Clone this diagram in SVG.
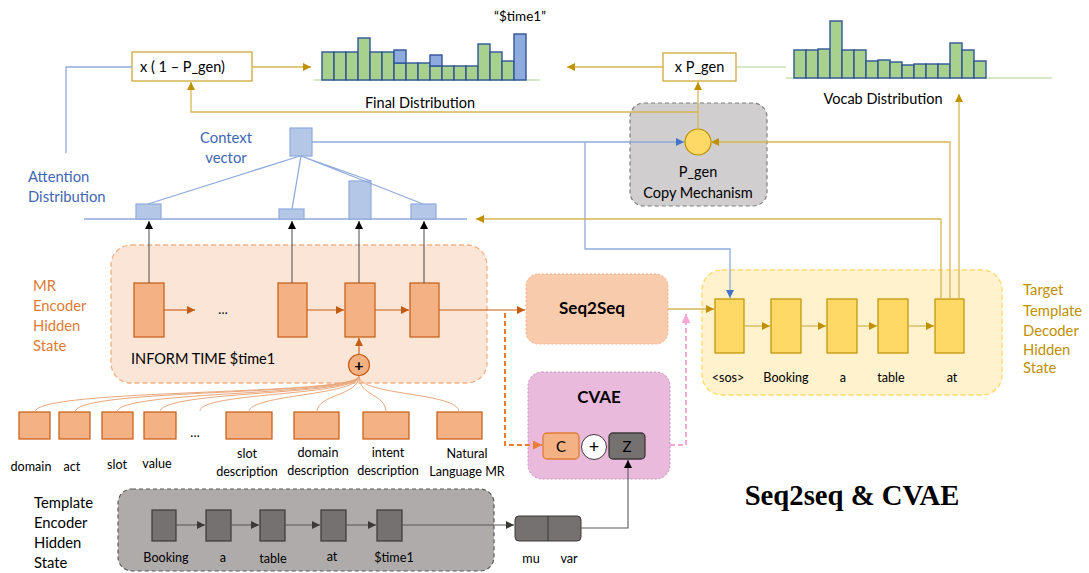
<svg xmlns="http://www.w3.org/2000/svg" width="1089" height="573" viewBox="0 0 1089 573">
<style>
text{font-family:Lato,"Liberation Sans",sans-serif;fill:#000}
.lbl{font-size:14.5px}
.sm{font-size:12.6px}
.blue{fill:#3F66B3;font-size:14.8px}
.org{fill:#DF7A35;font-size:14.8px}
.gold{fill:#BF9000;font-size:14.8px}
.gb{fill:#A9D18E;stroke:#2F5597;stroke-width:1.4}
.bb{fill:#8FAADC;stroke:#2F5597;stroke-width:1.4}
.base{stroke:#A9D18E;stroke-width:1.2;fill:none}
.ocell{fill:#F4B183;stroke:#C55A11;stroke-width:1.2}
.ycell{fill:#FFD966;stroke:#BF9000;stroke-width:1.2}
.gcell{fill:#767171;stroke:#3B3838;stroke-width:1.2}
.abar{fill:#B4C7E7;stroke:#8FAADC;stroke-width:1.2}
.lg{stroke:#D6B656;stroke-width:1.3;fill:none}
.lb{stroke:#8FAADC;stroke-width:1.3;fill:none}
.lo{stroke:#C55A11;stroke-width:1.1;fill:none}
.lk{stroke:#595959;stroke-width:1.1;fill:none}
.lc{stroke:#E9A77C;stroke-width:1;fill:none}
</style>
<defs>
<marker id="aG" viewBox="0 0 10 10" refX="10" refY="5" markerWidth="8" markerHeight="8" orient="auto" markerUnits="userSpaceOnUse"><path d="M0,0 L10,5 L0,10 z" fill="#BF9000"/></marker>
<marker id="aB" viewBox="0 0 10 10" refX="10" refY="5" markerWidth="8" markerHeight="8" orient="auto" markerUnits="userSpaceOnUse"><path d="M0,0 L10,5 L0,10 z" fill="#4472C4"/></marker>
<marker id="aO" viewBox="0 0 10 10" refX="10" refY="5" markerWidth="8" markerHeight="8" orient="auto" markerUnits="userSpaceOnUse"><path d="M0,0 L10,5 L0,10 z" fill="#C55A11"/></marker>
<marker id="aO2" viewBox="0 0 10 10" refX="10" refY="5" markerWidth="9" markerHeight="9" orient="auto" markerUnits="userSpaceOnUse"><path d="M0,0 L10,5 L0,10 z" fill="#ED7D31"/></marker>
<marker id="aP" viewBox="0 0 10 10" refX="10" refY="5" markerWidth="9" markerHeight="9" orient="auto" markerUnits="userSpaceOnUse"><path d="M0,0 L10,5 L0,10 z" fill="#F4A6D7"/></marker>
<marker id="aK" viewBox="0 0 10 10" refX="10" refY="5" markerWidth="8" markerHeight="8" orient="auto" markerUnits="userSpaceOnUse"><path d="M0,0 L10,5 L0,10 z" fill="#000"/></marker>
<marker id="aD" viewBox="0 0 10 10" refX="10" refY="5" markerWidth="8" markerHeight="8" orient="auto" markerUnits="userSpaceOnUse"><path d="M0,0 L10,5 L0,10 z" fill="#3B3838"/></marker>
</defs>

<!-- containers -->
<g id="mr-encoder">
<rect x="111" y="245" width="376" height="138" rx="20" fill="#FBE5D6" stroke="#F4B183" stroke-width="1.3" stroke-dasharray="5,3"/>
<rect class="ocell" x="134" y="283" width="30" height="54"/>
<rect class="ocell" x="278" y="283" width="29" height="54"/>
<rect class="ocell" x="345" y="283" width="30" height="54"/>
<rect class="ocell" x="410" y="283" width="29" height="54"/>
<text x="223" y="314" class="sm" text-anchor="middle">…</text>
<text x="131" y="364" style="font-size:14.5px">INFORM TIME $time1</text>
<circle cx="359" cy="365" r="10.5" fill="#F4B183" stroke="#C55A11" stroke-width="1.2"/>
<text x="359" y="370.5" text-anchor="middle" style="font-size:16px;font-weight:bold">+</text>
</g>
<g id="mr-label">
<text class="org" x="33" y="291">MR</text>
<text class="org" x="33" y="311">Encoder</text>
<text class="org" x="33" y="331">Hidden</text>
<text class="org" x="33" y="351">State</text>
</g>

<g id="decoder">
<rect x="702" y="270" width="300" height="125" rx="20" fill="#FFF2CC" stroke="#FFD966" stroke-width="1.3" stroke-dasharray="5,3"/>
<rect class="ycell" x="715" y="299" width="29" height="54"/>
<rect class="ycell" x="771" y="299" width="30" height="54"/>
<rect class="ycell" x="827" y="299" width="30" height="54"/>
<rect class="ycell" x="878" y="299" width="30" height="54"/>
<rect class="ycell" x="935" y="299" width="29" height="54"/>
<text class="sm" x="728" y="382" text-anchor="middle">&lt;sos&gt;</text>
<text class="sm" x="786" y="382" text-anchor="middle">Booking</text>
<text class="sm" x="843" y="382" text-anchor="middle">a</text>
<text class="sm" x="891" y="382" text-anchor="middle">table</text>
<text class="sm" x="952" y="382" text-anchor="middle">at</text>
</g>
<g id="decoder-label">
<text class="gold" x="1023" y="295">Target</text>
<text class="gold" x="1023" y="316">Template</text>
<text class="gold" x="1023" y="336">Decoder</text>
<text class="gold" x="1023" y="355">Hidden</text>
<text class="gold" x="1023" y="373">State</text>
</g>

<g id="template-encoder">
<rect x="118" y="489" width="376" height="82" rx="14" fill="#AFABAB" stroke="#595959" stroke-width="1.2" stroke-dasharray="4,3"/>
<rect class="gcell" x="152" y="510" width="24" height="31"/>
<rect class="gcell" x="206" y="510" width="25" height="31"/>
<rect class="gcell" x="260" y="510" width="25" height="31"/>
<rect class="gcell" x="321" y="510" width="25" height="31"/>
<rect class="gcell" x="377" y="510" width="25" height="31"/>
<text class="sm" x="166" y="562" text-anchor="middle">Booking</text>
<text class="sm" x="223" y="562" text-anchor="middle">a</text>
<text class="sm" x="273" y="563" text-anchor="middle">table</text>
<text class="sm" x="332" y="561" text-anchor="middle">at</text>
<text class="sm" x="394" y="562" text-anchor="middle">$time1</text>
</g>
<g id="template-label">
<text x="34" y="508" style="font-size:14.8px">Template</text>
<text x="34" y="528" style="font-size:14.8px">Encoder</text>
<text x="34" y="548" style="font-size:14.8px">Hidden</text>
<text x="34" y="568" style="font-size:14.8px">State</text>
</g>

<g id="mu-var">
<rect x="515" y="516" width="66" height="25" rx="4" fill="#767171" stroke="#3B3838" stroke-width="1"/>
<line x1="548" y1="516" x2="548" y2="541" stroke="#3B3838" stroke-width="1"/>
<text class="sm" x="531" y="563" text-anchor="middle">mu</text>
<text class="sm" x="569" y="563" text-anchor="middle">var</text>
</g>

<g id="seq2seq">
<rect x="526" y="274" width="142" height="70" rx="12" fill="#F8CBAD" stroke="#F4B183" stroke-width="1" stroke-dasharray="2,2"/>
<text x="592" y="314" text-anchor="middle" style="font-size:17px;font-weight:bold">Seq2Seq</text>
</g>

<g id="cvae">
<rect x="528" y="372" width="142" height="107" rx="14" fill="#E9BADB" stroke="#C990C0" stroke-width="1" stroke-dasharray="2,2"/>
<text x="599" y="403" text-anchor="middle" style="font-size:17px;font-weight:bold">CVAE</text>
<rect x="543" y="433" width="36" height="26" rx="4" fill="#F4B183" stroke="#E07B39" stroke-width="1.3"/>
<text x="561" y="452" text-anchor="middle" style="font-size:15px">C</text>
<circle cx="594" cy="447" r="12.5" fill="#fff" stroke="#3B3838" stroke-width="1"/>
<text x="594" y="453" text-anchor="middle" style="font-size:18px">+</text>
<rect x="609" y="433" width="36" height="26" rx="4" fill="#767171" stroke="#3B3838" stroke-width="1.3"/>
<text x="627" y="452" text-anchor="middle" style="font-size:15px">Z</text>
</g>

<g id="copy-mechanism">
<rect x="630" y="103" width="137" height="103" rx="14" fill="#D0CECE" stroke="#7F7F7F" stroke-width="1.2" stroke-dasharray="4,3"/>
<circle cx="698" cy="142" r="13" fill="#FFD966" stroke="#BF9000" stroke-width="1.2"/>
<text class="lbl" x="698" y="177" text-anchor="middle">P_gen</text>
<text class="lbl" x="698" y="198" text-anchor="middle">Copy Mechanism</text>
</g>

<g id="mult-1-pgen">
<rect x="132" y="52" width="120" height="29" fill="#fff" stroke="#C9A227" stroke-width="1.2"/>
<text class="lbl" x="140" y="72">x ( 1 – P_gen)</text>
</g>
<g id="mult-pgen">
<rect x="663" y="53" width="73" height="28" fill="#fff" stroke="#C9A227" stroke-width="1.2"/>
<text class="lbl" x="699.5" y="72" text-anchor="middle">x P_gen</text>
</g>

<g id="final-distribution">
<line class="base" x1="314" y1="80" x2="540" y2="80"/>
<rect class="gb" x="322" y="52" width="12" height="28"/>
<rect class="gb" x="334" y="52" width="12" height="28"/>
<rect class="gb" x="346" y="52" width="12" height="28"/>
<rect class="gb" x="358" y="38" width="12" height="42"/>
<rect class="gb" x="370" y="52" width="12" height="28"/>
<rect class="gb" x="382" y="52" width="12" height="28"/>
<rect class="gb" x="394" y="63" width="12" height="17"/>
<rect class="bb" x="394" y="50" width="12" height="13"/>
<rect class="gb" x="406" y="63" width="12" height="17"/>
<rect class="gb" x="418" y="63" width="12" height="17"/>
<rect class="gb" x="430" y="66" width="12" height="14"/>
<rect class="bb" x="430" y="55" width="12" height="11"/>
<rect class="gb" x="442" y="66" width="12" height="14"/>
<rect class="gb" x="454" y="66" width="12" height="14"/>
<rect class="gb" x="466" y="66" width="12" height="14"/>
<rect class="gb" x="478" y="44" width="12" height="36"/>
<rect class="gb" x="490" y="52" width="12" height="28"/>
<rect class="gb" x="502" y="61" width="12" height="19"/>
<rect class="bb" x="514" y="34" width="12" height="46"/>
<text class="lbl" x="420" y="108" text-anchor="middle">Final Distribution</text>
<text x="520" y="21" text-anchor="middle" style="font-size:13.5px">“$time1”</text>
</g>

<g id="vocab-distribution">
<line class="base" x1="786" y1="78" x2="1052" y2="78"/>
<rect class="gb" x="794" y="50" width="12" height="28"/>
<rect class="gb" x="806" y="50" width="12" height="28"/>
<rect class="gb" x="818" y="49" width="12" height="29"/>
<rect class="gb" x="830" y="21" width="12" height="57"/>
<rect class="gb" x="842" y="50" width="12" height="28"/>
<rect class="gb" x="854" y="50" width="12" height="28"/>
<rect class="gb" x="866" y="61" width="12" height="17"/>
<rect class="gb" x="878" y="60" width="12" height="18"/>
<rect class="gb" x="890" y="62" width="12" height="16"/>
<rect class="gb" x="902" y="65" width="12" height="13"/>
<rect class="gb" x="914" y="64" width="12" height="14"/>
<rect class="gb" x="926" y="64" width="12" height="14"/>
<rect class="gb" x="938" y="64" width="12" height="14"/>
<rect class="gb" x="950" y="43" width="12" height="35"/>
<rect class="gb" x="962" y="50" width="12" height="28"/>
<rect class="gb" x="974" y="61" width="12" height="17"/>
<text class="lbl" x="883" y="104" text-anchor="middle">Vocab Distribution</text>
</g>

<g id="attention">
<line class="lb" x1="84" y1="219" x2="467" y2="219"/>
<rect class="abar" x="136" y="204" width="25" height="15"/>
<rect class="abar" x="279" y="209" width="25" height="10"/>
<rect class="abar" x="349" y="181" width="22" height="38"/>
<rect class="abar" x="411" y="204" width="25" height="15"/>
<text class="blue" x="28" y="182">Attention</text>
<text class="blue" x="28" y="202">Distribution</text>
</g>

<g id="context-vector">
<rect class="abar" x="290" y="128" width="22" height="28"/>
<text class="blue" x="226" y="143" text-anchor="middle">Context</text>
<text class="blue" x="226" y="163" text-anchor="middle">vector</text>
</g>

<g id="inputs">
<rect class="ocell" x="19" y="412" width="31" height="27"/>
<rect class="ocell" x="59" y="412" width="31" height="27"/>
<rect class="ocell" x="102" y="412" width="31" height="27"/>
<rect class="ocell" x="144" y="412" width="32" height="27"/>
<text class="sm" x="195" y="437" text-anchor="middle">…</text>
<rect class="ocell" x="226" y="412" width="46" height="27"/>
<rect class="ocell" x="294" y="412" width="45" height="27"/>
<rect class="ocell" x="363" y="412" width="46" height="27"/>
<rect class="ocell" x="437" y="412" width="45" height="27"/>
<text class="sm" x="31" y="471" text-anchor="middle">domain</text>
<text class="sm" x="72" y="471" text-anchor="middle">act</text>
<text class="sm" x="117" y="469" text-anchor="middle">slot</text>
<text class="sm" x="157" y="468" text-anchor="middle">value</text>
<text class="sm" x="247" y="458" text-anchor="middle">slot</text>
<text class="sm" x="247" y="476" text-anchor="middle">description</text>
<text class="sm" x="318" y="457" text-anchor="middle">domain</text>
<text class="sm" x="318" y="475" text-anchor="middle">description</text>
<text class="sm" x="388" y="457" text-anchor="middle">intent</text>
<text class="sm" x="388" y="475" text-anchor="middle">description</text>
<text class="sm" x="467" y="458" text-anchor="middle">Natural</text>
<text class="sm" x="467" y="476" text-anchor="middle">Language MR</text>
</g>

<g id="title">
<text x="852" y="505" text-anchor="middle" style="font-family:'Liberation Serif',serif;font-size:28.7px;font-weight:bold">Seq2seq &amp; CVAE</text>
</g>

<g id="connectors">
<path class="lb" d="M66,153 V67 H132"/>
<path class="lg" d="M252,67 H311" marker-end="url(#aG)"/>
<path class="lg" d="M698,129 V82" marker-end="url(#aG)"/>
<path class="lg" d="M698,112 H191 V82" marker-end="url(#aG)"/>
<path class="lg" d="M663,67 H567" marker-end="url(#aG)"/>
<path class="base" d="M736,67 H786"/>
<path class="lb" d="M312,142 H684" marker-end="url(#aB)"/>
<path class="lb" d="M585,142 V249 H730 V298" marker-end="url(#aB)"/>
<path class="lg" d="M950,299 V142 H711" marker-end="url(#aG)"/>
<path class="lg" d="M941,299 V219 H476" marker-end="url(#aG)"/>
<path class="lg" d="M959,299 V94" marker-end="url(#aG)"/>
<path class="lb" d="M300,156 L148,204 M301,156 L292,209 M301,156 L371,181 M301,156 L423,204"/>
<path class="lk" d="M149,283 V221" marker-end="url(#aK)"/>
<path class="lk" d="M292,283 V221" marker-end="url(#aK)"/>
<path class="lk" d="M359,283 V221" marker-end="url(#aK)"/>
<path class="lk" d="M424,283 V221" marker-end="url(#aK)"/>
<path class="lo" d="M164,310 H195" marker-end="url(#aO)"/>
<path class="lo" d="M307,310 H344" marker-end="url(#aO)"/>
<path class="lo" d="M375,310 H409" marker-end="url(#aO)"/>
<path class="lo" d="M439,310 H525" marker-end="url(#aO)"/>
<path class="lo" d="M359,354 V338" marker-end="url(#aO)"/>
<path class="lc" d="M359,376 C359,396 35,388 35,412"/>
<path class="lc" d="M359,376 C359,396 75,388 75,412"/>
<path class="lc" d="M359,376 C359,396 117,390 117,412"/>
<path class="lc" d="M359,376 C359,396 160,390 160,412"/>
<path class="lc" d="M359,376 C359,396 200,392 200,411"/>
<path class="lc" d="M359,376 C359,396 249,394 249,412"/>
<path class="lc" d="M359,376 C359,396 317,394 317,412"/>
<path class="lc" d="M359,376 C359,396 386,394 386,412"/>
<path class="lc" d="M359,376 C359,396 459,392 459,412"/>
<path d="M505,313 V445 H542" fill="none" stroke="#ED7D31" stroke-width="2" stroke-dasharray="5,3" marker-end="url(#aO2)"/>
<path d="M670,445 H686 V314" fill="none" stroke="#F4A6D7" stroke-width="2" stroke-dasharray="5,3" marker-end="url(#aP)"/>
<path class="lg" d="M668,309 H714" marker-end="url(#aG)"/>
<path class="lg" d="M744,326 H770" marker-end="url(#aG)"/>
<path class="lg" d="M801,326 H826" marker-end="url(#aG)"/>
<path class="lg" d="M857,326 H877" marker-end="url(#aG)"/>
<path class="lg" d="M908,326 H934" marker-end="url(#aG)"/>
<path class="lk" d="M176,525 H205" marker-end="url(#aD)"/>
<path class="lk" d="M231,525 H259" marker-end="url(#aD)"/>
<path class="lk" d="M285,525 H320" marker-end="url(#aD)"/>
<path class="lk" d="M346,525 H376" marker-end="url(#aD)"/>
<path class="lk" d="M402,525 H514" marker-end="url(#aD)"/>
<path class="lk" d="M581,528 H628 V460" marker-end="url(#aK)"/>
</g>
</svg>
